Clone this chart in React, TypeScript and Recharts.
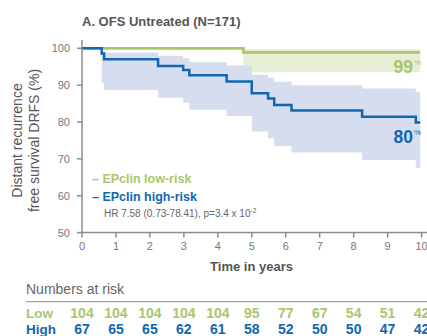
import React from 'react';
import { ComposedChart, Line, Area, XAxis, YAxis } from 'recharts';

// ---- data ----
const lowTimes = [0, 4.75, 9.96];
const lowSurv = [100, 98.9, 98.9];
const lowUpper = [100, 99.8, 99.8];
const lowLower = [100, 93.5, 93.5];

const highTimes = [0, 0.58, 0.65, 2.24, 2.98, 3.16, 4.26, 5.0, 5.48, 5.66, 6.17, 8.25, 9.83, 9.96];
const highSurv = [100, 98.6, 97.0, 95.2, 94.1, 92.7, 91.0, 87.8, 86.4, 84.6, 83.1, 81.4, 79.9, 79.9];
const highUpper = [100, 98.8, 98.8, 98.0, 97.3, 96.2, 95.3, 92.8, 92.0, 90.9, 90.0, 89.1, 88.1, 88.1];
const highLower = [100, 90.6, 88.7, 86.6, 85.2, 83.3, 81.6, 77.4, 75.6, 73.5, 71.7, 69.7, 67.6, 67.6];

const xTicks = [0, 1, 2, 3, 4, 5, 6, 7, 8, 9, 10];
const yTicks = [50, 60, 70, 80, 90, 100];
const lowAtRisk = [104, 104, 104, 104, 104, 95, 77, 67, 54, 51, 42];
const highAtRisk = [67, 65, 65, 62, 61, 58, 52, 50, 50, 47, 42];

// ---- styling ----
const GREEN = '#a8c76b';
const GREEN_BAND = '#e6efd6';
const BLUE = '#1167b1';
const BLUE_BAND = '#d6ddee';
const AXIS = '#8c8c8c';
const TICK_TXT = '#777777';
const FONT = '"Liberation Sans", Arial, sans-serif';

// step-forward lookup
function valueAt(times: number[], vals: number[], t: number): number {
  let v = vals[0];
  for (let i = 0; i < times.length; i++) {
    if (times[i] <= t + 1e-9) v = vals[i];
  }
  return v;
}

const allTimes = Array.from(new Set([...lowTimes, ...highTimes])).sort((a, b) => a - b);
const table = allTimes.map((t) => ({
  t,
  low: valueAt(lowTimes, lowSurv, t),
  lowBand: [valueAt(lowTimes, lowLower, t), valueAt(lowTimes, lowUpper, t)],
  high: valueAt(highTimes, highSurv, t),
  highBand: [valueAt(highTimes, highLower, t), valueAt(highTimes, highUpper, t)],
}));

const XTick = (props: any) => {
  const { x, y, payload } = props;
  const i = xTicks.indexOf(payload.value);
  return (
    <g>
      <text x={x} y={y} dy="0.71em" textAnchor="middle" fill={TICK_TXT} fontSize={11} fontFamily={FONT}>
        {payload.value}
      </text>
      <text x={x} y={y + 75.4} textAnchor="middle" fill={GREEN} fontSize={14} fontWeight="bold" fontFamily={FONT}>
        {lowAtRisk[i]}
      </text>
      <text x={x} y={y + 91.4} textAnchor="middle" fill={BLUE} fontSize={14} fontWeight="bold" fontFamily={FONT}>
        {highAtRisk[i]}
      </text>
    </g>
  );
};

export default function App() {
  return (
    <div style={{ position: 'absolute', left: 0, top: 0, width: 427, height: 336, background: '#fff', overflow: 'hidden' }}>
      <ComposedChart
        width={427}
        height={336}
        data={table}
        margin={{ top: 40, right: 0, bottom: 73.4, left: 0 }}
      >
        <XAxis
          dataKey="t"
          type="number"
          domain={[0, 10.16]}
          ticks={xTicks}
          interval={0}
          height={30}
          stroke={AXIS}
          strokeWidth={1.5}
          tickSize={5}
          tickMargin={5}
          tick={<XTick />}
          allowDataOverflow
        />
        <YAxis
          type="number"
          domain={[50, 102.25]}
          ticks={yTicks}
          interval={0}
          width={82}
          stroke={AXIS}
          strokeWidth={1.5}
          tickSize={5}
          tickMargin={7}
          tick={{ fill: TICK_TXT, fontSize: 11, fontFamily: FONT }}
          allowDataOverflow
        />
        <Area
          dataKey="lowBand"
          type="stepAfter"
          stroke="none"
          fill={GREEN_BAND}
          fillOpacity={1}
          isAnimationActive={false}
          dot={false}
          activeDot={false}
        />
        <Area
          dataKey="highBand"
          type="stepAfter"
          stroke="none"
          fill={BLUE_BAND}
          fillOpacity={1}
          isAnimationActive={false}
          dot={false}
          activeDot={false}
        />
        <Line
          dataKey="low"
          type="stepAfter"
          stroke={GREEN}
          strokeWidth={2.8}
          dot={false}
          activeDot={false}
          isAnimationActive={false}
        />
        <Line
          dataKey="high"
          type="stepAfter"
          stroke={BLUE}
          strokeWidth={2.5}
          dot={false}
          activeDot={false}
          isAnimationActive={false}
        />
      </ComposedChart>
      <svg
        width={427}
        height={336}
        style={{ position: 'absolute', left: 0, top: 0, pointerEvents: 'none' }}
        fontFamily={FONT}
      >
        <text x={82} y={26} fontSize={13} fontWeight="bold" fill="#555">
          A. OFS Untreated (N=171)
        </text>
        <text x={22} y={140.5} transform="rotate(-90 22 140.5)" textAnchor="middle" fontSize={14} fill="#555">
          Distant recurrence
        </text>
        <text x={38.5} y={140.5} transform="rotate(-90 38.5 140.5)" textAnchor="middle" fontSize={14} fill="#555">
          free survival DRFS (%)
        </text>
        <text x={92} y={183} fontSize={12.5} fontWeight="bold" fill={GREEN}>
          – EPclin low-risk
        </text>
        <text x={92} y={201} fontSize={12.5} fontWeight="bold" fill={BLUE}>
          – EPclin high-risk
        </text>
        <text x={104} y={217} fontSize={10} fill="#666">
          HR 7.58 (0.73-78.41), p=3.4 x 10
          <tspan dy={-4} fontSize={6.5}>-2</tspan>
        </text>
        <text x={413} y={73.3} textAnchor="end" fontSize={17.5} fontWeight="bold" fill={GREEN}>
          99
        </text>
        <text x={414} y={65} fontSize={8} fill={GREEN}>%</text>
        <text x={413} y={142.7} textAnchor="end" fontSize={17.5} fontWeight="bold" fill={BLUE}>
          80
        </text>
        <text x={414} y={134.5} fontSize={8} fill={BLUE}>%</text>
        <text x={251.5} y={270.5} textAnchor="middle" fontSize={13} fontWeight="bold" fill="#555">
          Time in years
        </text>
        <text x={26} y={294} fontSize={14} fill="#666">
          Numbers at risk
        </text>
        <line x1={26} x2={427} y1={301.7} y2={301.7} stroke={AXIS} strokeWidth={1} />
        <text x={26} y={318} fontSize={13.5} fontWeight="bold" fill={GREEN}>
          Low
        </text>
        <text x={26} y={333.5} fontSize={13.5} fontWeight="bold" fill={BLUE}>
          High
        </text>
      </svg>
    </div>
  );
}
